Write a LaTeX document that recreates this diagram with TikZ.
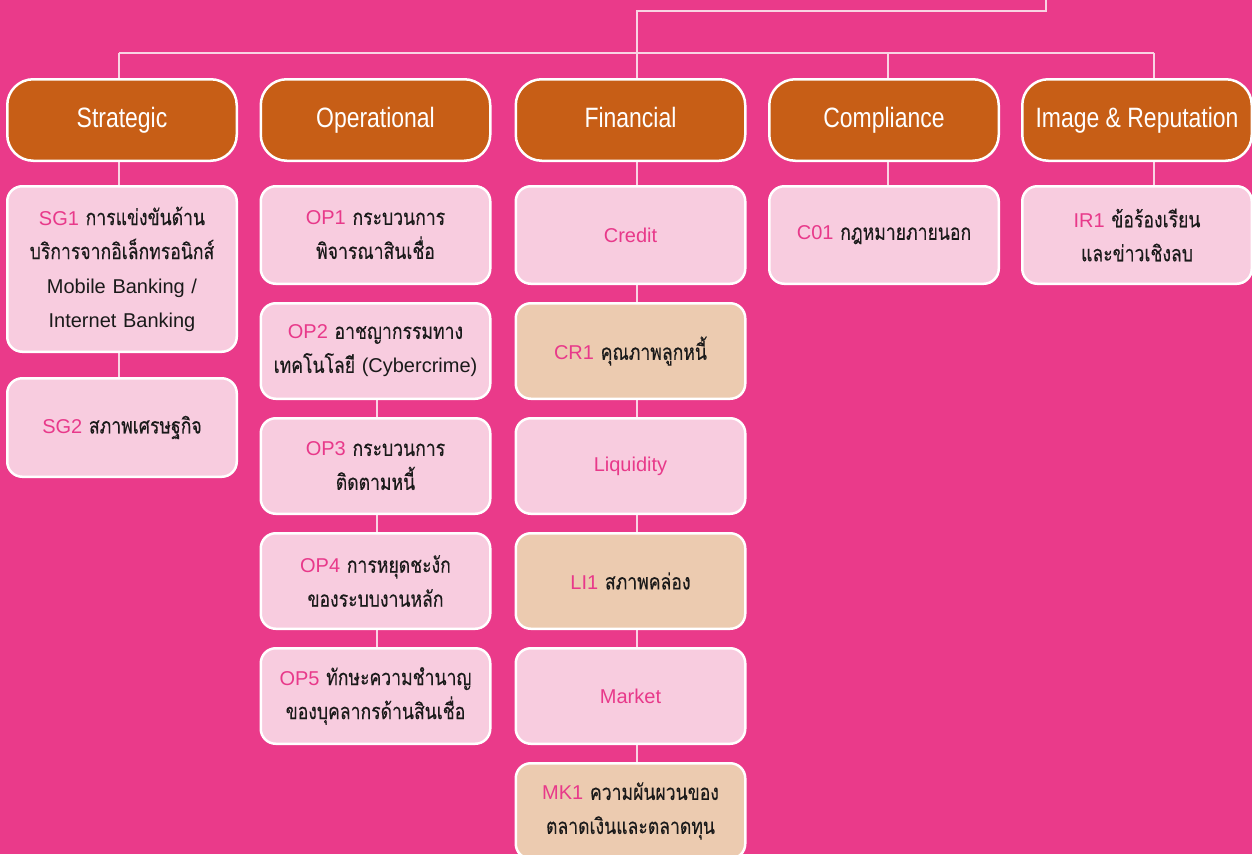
\documentclass[tikz,border=0pt]{standalone}
\usepackage{fontspec}
\setmainfont{Liberation Sans}
\newfontfamily\hdrfont{Liberation Sans}[FakeStretch=0.82]
\newfontfamily\thaifont[Script=Thai,FakeStretch=0.8,FakeBold=0.25]{Loma}
\usetikzlibrary{backgrounds}

\definecolor{bgpink}{HTML}{EA3A8A}
\definecolor{hdrorange}{HTML}{C75E16}
\definecolor{itempink}{HTML}{F8CCDF}
\definecolor{itemtan}{HTML}{ECCBB0}
\definecolor{codepink}{HTML}{E8398A}
\definecolor{textdark}{HTML}{1A1A1A}
\definecolor{wirepink}{HTML}{F9D3E3}

\newcommand{\thx}[1]{{\thaifont\fontsize{22}{34}\selectfont #1}}
\newcommand{\code}[1]{\textcolor{codepink}{#1}}

\tikzset{
  hdr/.style={draw=white, line width=2.5pt, fill=hdrorange, rounded corners=26pt,
    minimum width=229.5pt, minimum height=81.5pt, inner sep=0pt,
    text height=20pt, text depth=6pt,
    text=white, font=\hdrfont\fontsize{28}{32}\selectfont},
  item/.style={draw=white, line width=2.5pt, fill=itempink, rounded corners=15pt,
    minimum width=229.5pt, minimum height=97.5pt, text width=224pt, align=center,
    inner sep=0pt, text=textdark, font=\fontsize{20}{34}\selectfont},
  tan/.style={item, fill=itemtan},
  sub/.style={item, text=codepink},
  wire/.style={draw=wirepink, line width=2.2pt},
}

\begin{document}
\begin{tikzpicture}[x=1pt, y=-1pt]
\useasboundingbox (0,0) rectangle (1252,854);

% risk categories
\node[hdr] (h1) at (122,120) {Strategic};
\node[hdr] (h2) at (375.5,120) {Operational};
\node[hdr] (h3) at (630.5,120) {Financial};
\node[hdr] (h4) at (884,120) {Compliance};
\node[hdr] (h5) at (1137,120) {Image \& Reputation};

% strategic
\node[item, minimum height=165.5pt] (sg1) at (122,269)
  {\code{SG1} \thx{การแข่งขันด้าน}\\\thx{บริการจากอิเล็กทรอนิกส์}\\Mobile Banking /\\Internet Banking};
\node[item, minimum height=98.5pt] (sg2) at (122,427.5) {\code{SG2} \thx{สภาพเศรษฐกิจ}};

% operational
\node[item] (op1) at (375.5,235) {\code{OP1} \thx{กระบวนการ}\\\thx{พิจารณาสินเชื่อ}};
\node[item, minimum height=95.5pt] (op2) at (375.5,351) {\code{OP2} \thx{อาชญากรรมทาง}\\\thx{เทคโนโลยี} (Cybercrime)};
\node[item, minimum height=95.5pt] (op3) at (375.5,466) {\code{OP3} \thx{กระบวนการ}\\\thx{ติดตามหนี้}};
\node[item, minimum height=95.5pt] (op4) at (375.5,581) {\code{OP4} \thx{การหยุดชะงัก}\\\thx{ของระบบงานหลัก}};
\node[item, minimum height=95.5pt] (op5) at (375.5,696) {\code{OP5} \thx{ทักษะความชำนาญ}\\\thx{ของบุคลากรด้านสินเชื่อ}};

% financial
\node[sub] (cr) at (630.5,235) {Credit};
\node[tan, minimum height=95.5pt] (cr1) at (630.5,351) {\code{CR1} \thx{คุณภาพลูกหนี้}};
\node[sub, minimum height=95.5pt] (li) at (630.5,466) {Liquidity};
\node[tan, minimum height=95.5pt] (li1) at (630.5,581) {\code{LI1} \thx{สภาพคล่อง}};
\node[sub, minimum height=95.5pt] (mk) at (630.5,696) {Market};
\node[tan, minimum height=95.5pt] (mk1) at (630.5,811) {\code{MK1} \thx{ความผันผวนของ}\\\thx{ตลาดเงินและตลาดทุน}};

% compliance, image & reputation
\node[item] (co1) at (884,235) {\code{C01} \thx{กฎหมายภายนอก}};
\node[item] (ir1) at (1137,235) {\code{IR1} \thx{ข้อร้องเรียน}\\\thx{และข่าวเชิงลบ}};

% branching wires
\coordinate (root) at (1046,0);
\coordinate (rootbend) at (1046,11);
\coordinate (trunk) at (637,11);
\coordinate (trunkbus) at (637,53);
\coordinate (busl) at (119,53);
\coordinate (busr) at (1154,53);
\coordinate (xfin) at (637,0);
\coordinate (xcomp) at (888,0);
\coordinate (xop) at (377,0);

\begin{scope}[on background layer]
  \fill[bgpink] (0,0) rectangle (1252,854);
  \draw[wire] (root) -- (rootbend) -- (trunk) -- (trunkbus);
  \draw[wire] (busl) -- (busr);
  \draw[wire] (busl) -- (sg2.north -| busl);
  \draw[wire] (trunkbus) -- (mk1.north -| xfin);
  \draw[wire] (co1.north -| xcomp) -- (h4.north -| xcomp) -- (xcomp |- busl);
  \draw[wire] (busr) -- (ir1.north -| busr);
  \draw[wire] (op2.south -| xop) -- (op5.north -| xop);
\end{scope}
\end{tikzpicture}
\end{document}
